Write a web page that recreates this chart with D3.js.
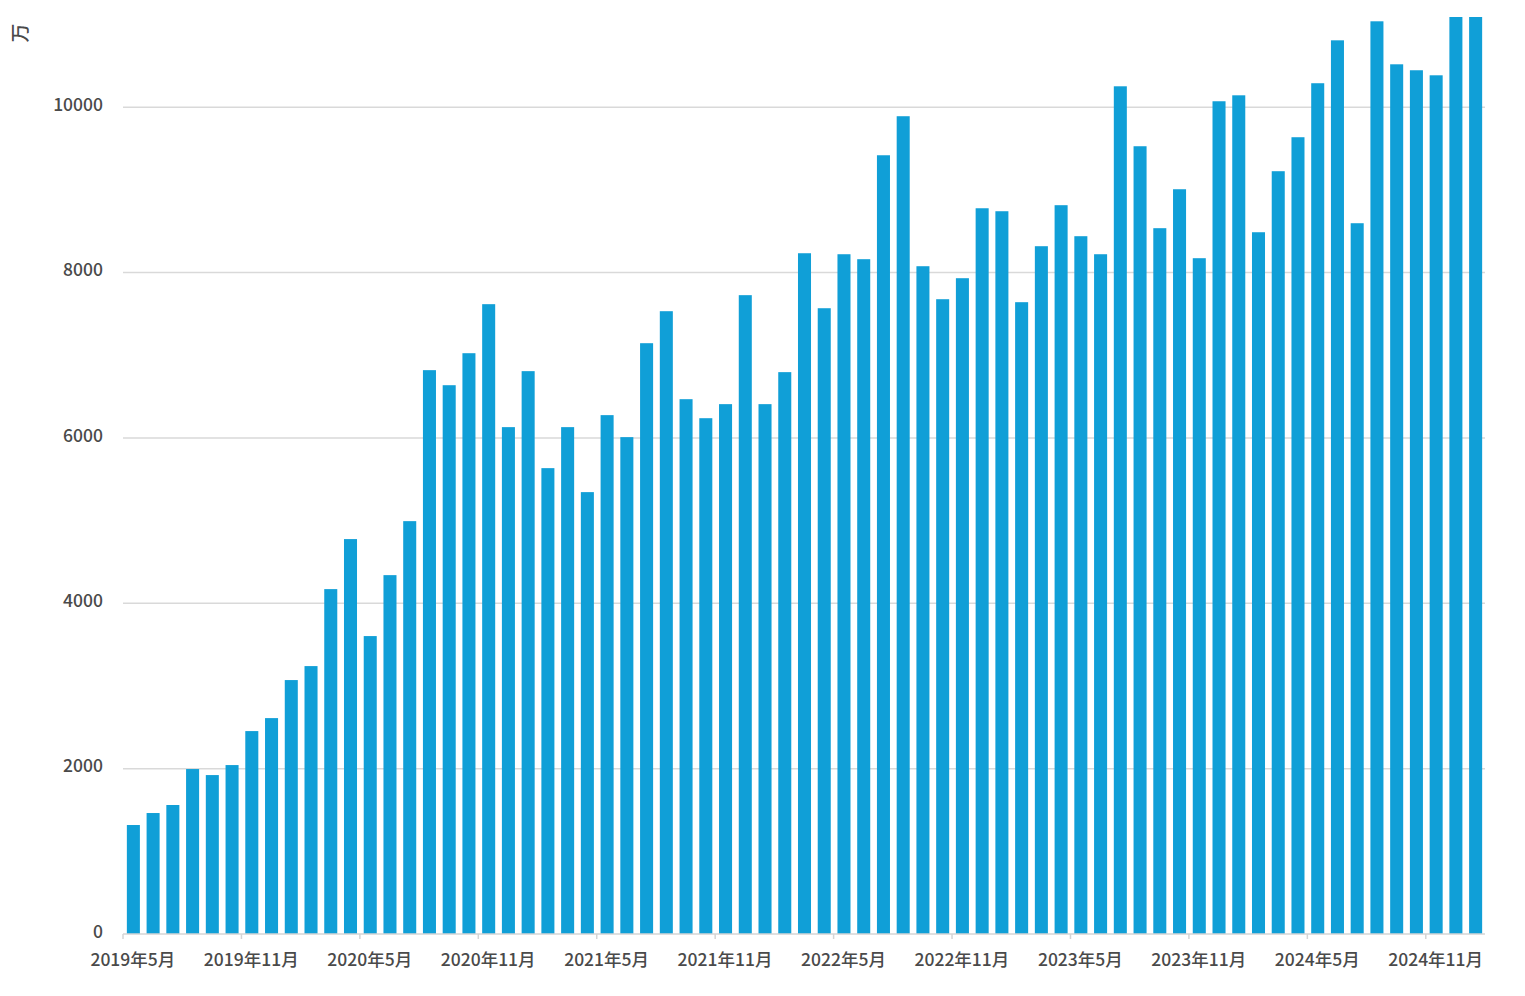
<!DOCTYPE html>
<html><head><meta charset="utf-8">
<script src="https://cdn.jsdelivr.net/npm/d3@7/dist/d3.min.js"></script>
<style>
html,body{margin:0;padding:0;background:#fff;}
svg{display:block;}
</style>
</head><body>
<svg id="chart" width="1525" height="996"></svg>
<script>
const categories = [
 "2019年5月","2019年6月","2019年7月","2019年8月","2019年9月","2019年10月","2019年11月","2019年12月",
 "2020年1月","2020年2月","2020年3月","2020年4月","2020年5月","2020年6月","2020年7月","2020年8月","2020年9月","2020年10月","2020年11月","2020年12月",
 "2021年1月","2021年2月","2021年3月","2021年4月","2021年5月","2021年6月","2021年7月","2021年8月","2021年9月","2021年10月","2021年11月","2021年12月",
 "2022年1月","2022年2月","2022年3月","2022年4月","2022年5月","2022年6月","2022年7月","2022年8月","2022年9月","2022年10月","2022年11月","2022年12月",
 "2023年1月","2023年2月","2023年3月","2023年4月","2023年5月","2023年6月","2023年7月","2023年8月","2023年9月","2023年10月","2023年11月","2023年12月",
 "2024年1月","2024年2月","2024年3月","2024年4月","2024年5月","2024年6月","2024年7月","2024年8月","2024年9月","2024年10月","2024年11月","2024年12月",
 "2025年1月"
];
const values = [
 1318,1463,1560,1995,1922,2043,2454,2611,3071,3240,4171,4776,
 3603,4340,4993,6819,6637,7024,7617,6130,6807,5634,6130,5344,
 6275,6009,7145,7532,6468,6238,6408,7726,6408,6795,8233,7568,
 8221,8161,9418,9890,8076,7677,7931,8777,8741,7641,8318,8814,
 8439,8221,10252,9527,8536,9007,8173,10071,10143,8487,9225,9636,
 10289,10808,8596,11038,10518,10446,10385,11400,11500
];
const yTicks = [0,2000,4000,6000,8000,10000];
const yMax = 11090;
const yName = "万";
const labelEvery = 6;

const W = 1525, H = 996;
const m = {left:123, right:40, top:17, bottom:62};
const svg = d3.select("#chart");
const font = "'Noto Sans CJK SC','Noto Sans',sans-serif";

const x = d3.scaleBand().domain(categories).range([m.left, W - m.right]).padding(0);
const y = d3.scaleLinear().domain([0, yMax]).range([H - m.bottom, m.top]);

svg.append("defs").append("clipPath").attr("id","plot")
  .append("rect").attr("x", m.left).attr("y", m.top)
  .attr("width", W - m.right - m.left).attr("height", H - m.bottom - m.top);

svg.append("g").selectAll("line").data(yTicks.filter(d=>d>0)).join("line")
  .attr("x1", m.left).attr("x2", W - m.right)
  .attr("y1", d=>y(d)).attr("y2", d=>y(d))
  .attr("stroke", "#d9d9d9").attr("stroke-width", 1.5);

svg.append("g").selectAll("text").data(yTicks).join("text")
  .attr("x", m.left - 20).attr("y", d=>y(d) - 1)
  .attr("text-anchor","end").attr("dominant-baseline","middle")
  .attr("font-family", font).attr("font-size", 17.5).attr("font-weight", 500).attr("fill","#4a4a4a")
  .text(d=>d);

const bw = x.bandwidth() * 0.66;
svg.append("g").attr("clip-path","url(#plot)").selectAll("rect").data(values).join("rect")
  .attr("x", (d,i)=> x(categories[i]) + (x.bandwidth() - bw)/2 + 0.5)
  .attr("width", bw)
  .attr("y", d=>y(d))
  .attr("height", d=> y(0) - y(d))
  .attr("fill", "#109fd7");

svg.append("line").attr("x1", m.left).attr("x2", W - m.right)
  .attr("y1", y(0)).attr("y2", y(0)).attr("stroke","#d4d4d4").attr("stroke-width",1.5);

const tickCats = categories.filter((c,i)=> i % labelEvery === 0);
svg.append("g").selectAll("line").data(tickCats).join("line")
  .attr("x1", d=>x(d)).attr("x2", d=>x(d))
  .attr("y1", y(0)).attr("y2", y(0)+5)
  .attr("stroke","#d4d4d4").attr("stroke-width",1.5);

svg.append("g").selectAll("text").data(tickCats).join("text")
  .attr("x", d=>x(d) + x.bandwidth()/2).attr("y", y(0) + 27)
  .attr("text-anchor","middle").attr("dominant-baseline","middle")
  .attr("font-family", font).attr("font-size", 17.5).attr("font-weight", 500).attr("fill","#4a4a4a")
  .text(d=>d);

svg.append("text").attr("transform", "translate(22,33) rotate(-90)")
  .attr("text-anchor","middle").attr("dominant-baseline","middle")
  .attr("font-family", font).attr("font-size", 19).attr("font-weight", 500).attr("fill","#4a4a4a")
  .text(yName);
</script>
</body></html>
